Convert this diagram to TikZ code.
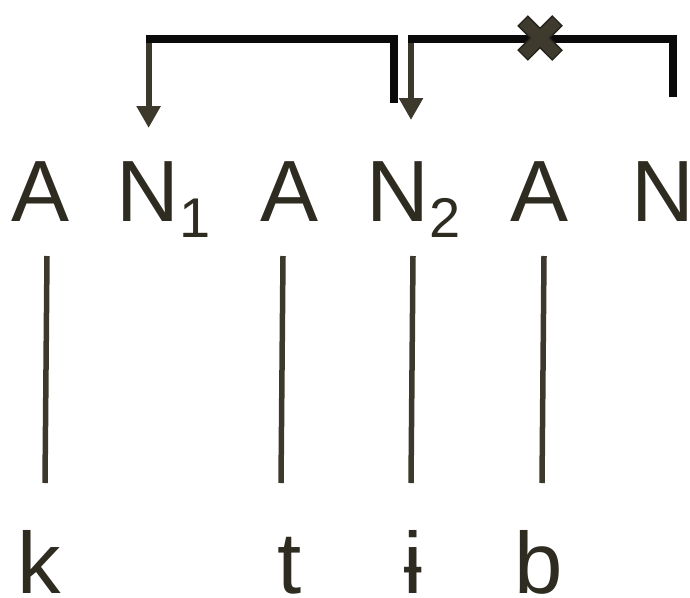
\documentclass[tikz,border=0pt]{standalone}
\usepackage{fontspec}
\setmainfont{Liberation Sans}
\usepackage{tikz}
\usetikzlibrary{calc, arrows.meta}
\usetikzlibrary{positioning}
\definecolor{inkcol}{RGB}{46,43,33}
\definecolor{linkcol}{RGB}{60,57,44}
\definecolor{barcol}{RGB}{10,10,10}
\definecolor{crossedge}{RGB}{36,34,26}
\definecolor{crossfill}{RGB}{62,59,46}
\tikzstyle{word} = [inner sep=0, anchor=base west, text=inkcol, font=\fontsize{87}{87}\selectfont]
\tikzstyle{gloss} = [inner sep=0, anchor=base west, text=inkcol, font=\fontsize{87}{87}\selectfont]
\tikzstyle{link} = [draw=linkcol, line width=5.5pt]
\tikzstyle{bar} = [draw=barcol, line width=8pt, miter limit=4]
\tikzstyle{pointer} = [draw=linkcol, line width=6pt, -{Triangle[width=23pt, length=22pt]}]
\newcommand{\lowidx}[1]{\raisebox{-16pt}{\fontsize{56}{56}\selectfont #1}}

\begin{document}
\begin{tikzpicture}[x=1pt, y=-1pt]
        \useasboundingbox (0, 0) rectangle (690, 597);

        \node[word] at (11, 221) (A1) {A};
        \node[word] at (116.4, 221) (N1) {N\lowidx{1}};
        \node[word] at (260, 221) (A2) {A};
        \node[word] at (366.4, 221) (N2) {N\lowidx{2}};
        \node[word] at (510, 221) (A3) {A};
        \node[word] at (631.4, 221) (N3) {N};

        \node[gloss] at (17, 593) (k) {k};
        \node[gloss] at (277, 593) (t) {t};
        \node[gloss, anchor=base] at (413.5, 593) (ibar) {ɨ};
        \node[gloss] at (514, 593) (b) {b};

        \coordinate (A1top) at (47, 256);   \coordinate (kbot) at (45, 483);
        \coordinate (A2top) at (283, 256);  \coordinate (tbot) at (281, 483);
        \coordinate (N2top) at (413, 256);  \coordinate (ibot) at (411, 483);
        \coordinate (A3top) at (544, 256);  \coordinate (bbot) at (542, 483);

        \draw[link] (A1top) -- (kbot);
        \draw[link] (A2top) -- (tbot);
        \draw[link] (N2top) -- (ibot);
        \draw[link] (A3top) -- (bbot);

        % brackets over the nouns
        \coordinate (leftfoot) at (148.6, 43);
        \coordinate (lefttip) at (148.6, 128);
        \coordinate (leftend) at (394, 103);
        \coordinate (rightfoot) at (411, 43);
        \coordinate (righttip) at (411, 120);
        \coordinate (rightend) at (673, 97);
        \coordinate (block) at (540, 38);

        \draw[pointer] (leftfoot) -- (lefttip);
        \draw[pointer] (rightfoot) -- (righttip);
        \draw[bar] (145.6, 39) -| (leftend);
        \draw[bar] (408, 39) -| (rightend);

        \draw[crossedge, line width=15pt] (block)++(-17.5, -17.5) -- ++(35, 35) (block)++(-17.5, 17.5) -- ++(35, -35);
        \draw[crossfill, line width=12pt] (block)++(-16.5, -16.5) -- ++(33, 33) (block)++(-16.5, 16.5) -- ++(33, -33);

    \end{tikzpicture}
\end{document}
